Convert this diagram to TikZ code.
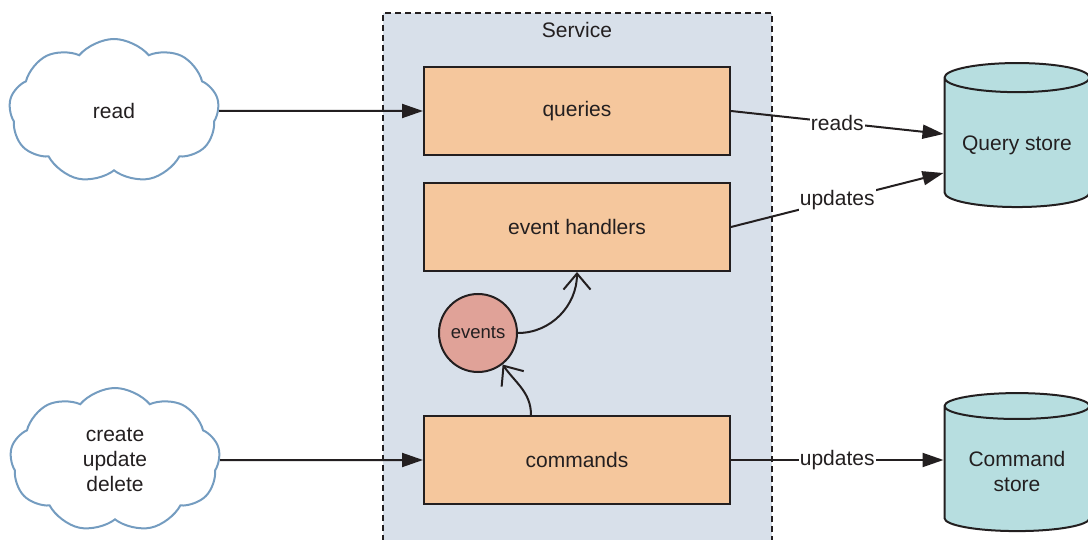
\documentclass[tikz,border=0pt]{standalone}
\usepackage{fontspec}
\setmainfont{Liberation Sans}
\usetikzlibrary{arrows.meta,shapes.geometric,shapes.symbols}
\definecolor{svcfill}{HTML}{D8E0EA}
\definecolor{boxfill}{HTML}{F5C79D}
\definecolor{evfill}{HTML}{E0A298}
\definecolor{storefill}{HTML}{B7DEE0}
\definecolor{cloudline}{HTML}{749CC0}
\definecolor{ink}{HTML}{231F20}
\tikzset{
  txt/.style={text=ink, font=\fontsize{21}{25}\selectfont},
  compbox/.style={txt, draw=ink, fill=boxfill, line width=2pt, minimum width=306pt, minimum height=88pt},
  client/.style={txt, cloud, draw=cloudline, line width=2pt, cloud puffs=9, cloud puff arc=100, aspect=1.5, minimum width=210pt, minimum height=144pt, align=center},
  store/.style={txt, cylinder, shape border rotate=90, draw=ink, fill=storefill, line width=2pt, aspect=0.25, minimum width=145pt, minimum height=144pt, align=center},
  flow/.style={draw=ink, line width=2pt, -{Triangle[length=21pt,width=14pt]}},
  curvy/.style={draw=ink, line width=2pt, -{Straight Barb[length=16pt,width=27pt,line width=2pt]}},
  lbl/.style={txt, fill=white, inner sep=1pt}
}
\begin{document}
\begin{tikzpicture}[x=1pt, y=-1pt]
\useasboundingbox (0,0) rectangle (1088,540);
\clip (0,0) rectangle (1088,540);
% service container
\node[draw=ink, fill=svcfill, line width=2pt, dash pattern=on 6pt off 4pt, minimum width=389pt, minimum height=560pt, anchor=north] (service) at (577,12) {};
\node[txt] (svclabel) at (577,30) {Service};
% components
\node[compbox] (queries) at (577,111) {queries};
\node[compbox] (handlers) at (577,227) {event handlers};
\node[compbox] (commands) at (577,460) {commands};
\node[circle, draw=ink, fill=evfill, line width=2pt, minimum size=78pt, inner sep=0pt, text=ink, font=\fontsize{18.5}{21}\selectfont] (events) at (478,333) {events};
% clients and stores
\node[client] (read) at (114,111) {read};
\node[client] (write) at (115,460) {create\\update\\delete};
\node[store] (qstore) at (1017,145) {Query store};
\node[store, minimum height=138pt] (cstore) at (1017,471) {Command\\store};
% connectors
\draw[flow] (read.east) -- (queries.west);
\draw[flow] (write.east) -- (commands.west);
\draw[flow] (queries.east) -- node[lbl] {reads} (qstore.west |- 0,134);
\draw[flow] (handlers.east) -- node[lbl] {updates} (qstore.west |- 0,173);
\draw[flow] (commands.east) -- node[lbl] {updates} (cstore.west |- 0,460);
\draw[curvy] (commands.north -| 531,0) to[out=90, in=-55] (events.-52);
\draw[curvy] (events.east) to[out=0, in=-90] (handlers.south);
\end{tikzpicture}
\end{document}
